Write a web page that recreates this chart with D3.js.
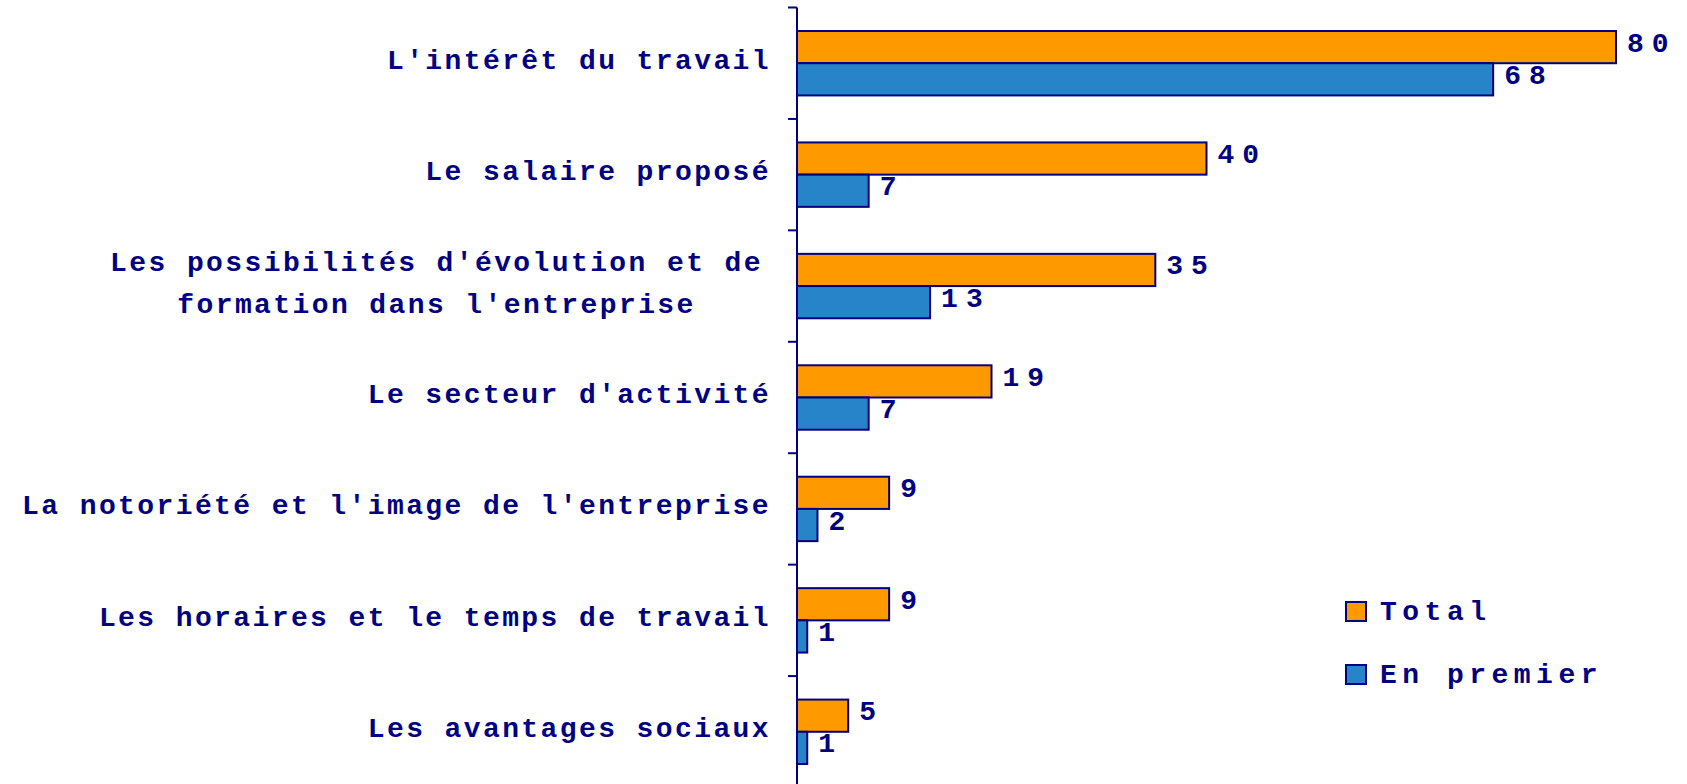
<!DOCTYPE html>
<html>
<head>
<meta charset="utf-8">
<script src="https://cdn.jsdelivr.net/npm/d3@7"></script>
<style>
  html, body { margin: 0; padding: 0; background: #fff; }
  svg { display: block; }
  text { font-family: "Liberation Mono", "DejaVu Sans Mono", monospace; font-weight: bold; fill: #000080; }
</style>
</head>
<body>
<svg id="chart"></svg>
<script>
const categories = [
  ["L'intérêt du travail"],
  ["Le salaire proposé"],
  ["Les possibilités d'évolution et de", "formation dans l'entreprise"],
  ["Le secteur d'activité"],
  ["La notoriété et l'image de l'entreprise"],
  ["Les horaires et le temps de travail"],
  ["Les avantages sociaux"]
];
const series = ["Total", "En premier"];
const totalValues = [80, 40, 35, 19, 9, 9, 5];
const premierValues = [68, 7, 13, 7, 2, 1, 1];

const width = 1687, height = 784;
const axisX = 797;
const colors = { "Total": "#ff9900", "En premier": "#2884c8" };
const navy = "#000080";

const svg = d3.select("#chart").attr("width", width).attr("height", height);

const rows = categories.map((lines, i) => ({
  key: lines.join(" "),
  lines: lines,
  values: { "Total": totalValues[i], "En premier": premierValues[i] }
}));

const y = d3.scaleBand().domain(rows.map(d => d.key)).range([7.5, 787.5]).padding(0);
const ySub = d3.scaleBand().domain(series).range([0, y.bandwidth()]).paddingOuter(0.73).paddingInner(0);
const x = d3.scaleLinear().domain([0, 80]).range([axisX, 1616]);

// bars
const groups = svg.append("g").selectAll("g.row")
  .data(rows)
  .join("g")
  .attr("class", "row")
  .attr("transform", d => `translate(0,${y(d.key)})`);

groups.selectAll("rect")
  .data(d => series.map(s => ({ s: s, v: d.values[s] })))
  .join("rect")
  .attr("x", x(0))
  .attr("y", d => ySub(d.s))
  .attr("width", d => x(d.v) - x(0))
  .attr("height", ySub.bandwidth())
  .attr("fill", d => colors[d.s])
  .attr("stroke", navy)
  .attr("stroke-width", 2);

groups.selectAll("text.val")
  .data(d => series.map(s => ({ s: s, v: d.values[s] })))
  .join("text")
  .attr("class", "val")
  .attr("x", d => x(d.v) + 11)
  .attr("y", d => ySub(d.s) + ySub.bandwidth() / 2 - 3)
  .attr("dominant-baseline", "central")
  .style("font-size", "28px")
  .style("letter-spacing", "8px")
  .text(d => d.v);

// axis: vertical line with ticks at band boundaries
const axis = svg.append("g");
axis.append("line")
  .attr("x1", axisX).attr("x2", axisX)
  .attr("y1", y.range()[0]).attr("y2", height)
  .attr("stroke", navy).attr("stroke-width", 2);
axis.selectAll("line.tick")
  .data(d3.range(rows.length + 1))
  .join("line")
  .attr("class", "tick")
  .attr("x1", axisX - 9).attr("x2", axisX)
  .attr("y1", i => y.range()[0] + i * y.step())
  .attr("y2", i => y.range()[0] + i * y.step())
  .attr("stroke", navy).attr("stroke-width", 2);

// category labels
const labelRight = 771;
const labels = svg.append("g").selectAll("text.cat")
  .data(rows)
  .join("text")
  .attr("class", "cat")
  .style("font-size", "28px")
  .style("letter-spacing", "2.4px");

labels.each(function(d) {
  const t = d3.select(this);
  const cy = y(d.key) + y.bandwidth() / 2;
  const n = d.lines.length;
  const lineGap = 42;
  const tspans = t.selectAll("tspan").data(d.lines).join("tspan")
    .attr("dominant-baseline", "central")
    .attr("y", (l, i) => cy - 2 + (i - (n - 1) / 2) * lineGap)
    .text(l => l);
  if (n === 1) {
    t.attr("text-anchor", "end");
    tspans.attr("x", labelRight);
  } else {
    let maxW = 0;
    tspans.each(function() { maxW = Math.max(maxW, this.getComputedTextLength()); });
    t.attr("text-anchor", "middle");
    tspans.attr("x", labelRight - 8 - maxW / 2);
  }
});

// legend
const legend = svg.append("g").selectAll("g.leg")
  .data(series)
  .join("g")
  .attr("class", "leg")
  .attr("transform", (d, i) => `translate(1346,${602 + i * 63})`);
legend.append("rect")
  .attr("width", 20).attr("height", 19)
  .attr("fill", d => colors[d])
  .attr("stroke", navy).attr("stroke-width", 2);
legend.append("text")
  .attr("x", 34).attr("y", 10)
  .attr("dominant-baseline", "central")
  .style("font-size", "28px")
  .style("letter-spacing", "5.5px")
  .text(d => d);
</script>
</body>
</html>
